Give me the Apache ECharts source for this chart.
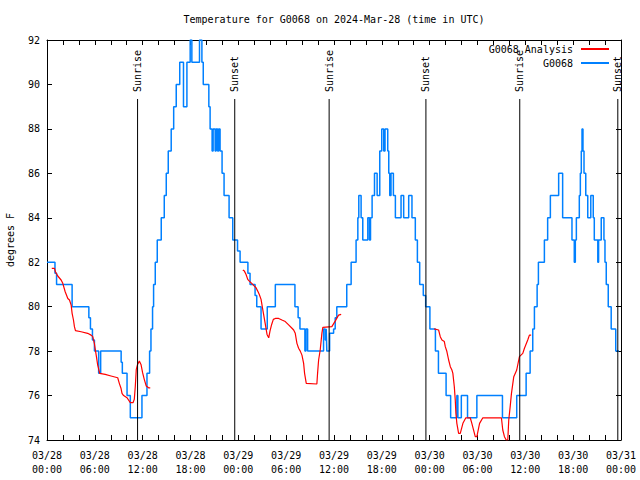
<!DOCTYPE html>
<html><head><meta charset="utf-8">
<script src="https://cdn.jsdelivr.net/npm/echarts@6/dist/echarts.min.js"></script>
<style>html,body{margin:0;padding:0;background:#fff}#c{width:640px;height:480px}</style>
</head><body><div id="c"></div>
<script>
const FONT = '"DejaVu Sans Mono", "Liberation Mono", monospace';
const chartTitle = 'Temperature for G0068 on 2024-Mar-28 (time in UTC)';
const yAxisName = 'degrees F';
const seriesNames = ['G0068 Analysis', 'G0068'];
const xTickHours = [0, 6, 12, 18, 24, 30, 36, 42, 48, 54, 60, 66, 72];
const xTickLabels = ['03/28\n00:00','03/28\n06:00','03/28\n12:00','03/28\n18:00',
  '03/29\n00:00','03/29\n06:00','03/29\n12:00','03/29\n18:00',
  '03/30\n00:00','03/30\n06:00','03/30\n12:00','03/30\n18:00','03/31\n00:00'];
const sunTimes = [11.36, 23.55, 35.39, 47.53, 59.3, 71.6];
const sunLabels = ['Sunrise', 'Sunset', 'Sunrise', 'Sunset', 'Sunrise', 'Sunset'];

// observed G0068 (hours since 03/28 00:00 UTC, deg F)
const g0068 = [[0,82],[1.0,81.5],[1.2,81],[3.15,80],[5.25,79.5],[5.45,79],[5.7,78.5],[5.95,78],[6.48,77],[6.73,78],[9.3,77.5],[9.45,77],[10.04,76],[10.45,75],[11.91,76],[12.54,77],[12.87,78],[13.04,79],[13.24,80],[13.37,81],[13.58,82],[13.83,83],[14.33,84],[14.71,85],[14.96,86],[15.21,87],[15.58,88],[15.89,89],[16.21,90],[16.65,91],[17.12,89],[17.55,91],[17.96,92],[18.17,91],[19.13,92],[19.43,91],[19.6,90],[20.3,89],[20.46,88],[20.71,87],[20.84,88],[21.09,87],[21.21,88],[21.4,87],[21.53,88],[21.71,87],[21.96,86],[22.21,85],[22.84,84],[23.3,83],[23.9,82.5],[24.22,82],[25.2,81.5],[25.47,81],[26.1,80.5],[26.31,80],[26.85,79],[27.63,80],[28.64,81],[31.1,80],[31.5,79.5],[31.73,79],[32.35,78],[32.48,79],[32.69,78],[34.69,79],[34.9,78.5],[35.02,79],[35.1,78],[35.45,78.8],[35.95,79],[36.15,79.5],[36.35,80],[37.6,81],[38.15,82],[38.77,83],[38.99,84],[39.11,85],[39.4,84],[39.61,83],[40.24,84],[40.45,83],[40.58,84],[40.78,85],[41.08,86],[41.41,85],[41.74,87],[41.99,88],[42.24,87],[42.4,88],[42.74,87],[42.87,86],[42.99,85],[43.15,86],[43.45,85],[43.7,84],[44.41,85],[44.74,84],[45.37,85],[45.78,84],[46.2,83],[46.46,82],[46.75,81],[47.2,80.5],[47.5,80],[48.03,79],[48.72,78],[49.1,77],[50.06,76],[50.63,75],[51.41,76],[51.54,75],[51.97,76],[52.75,75],[53.92,76],[57.13,75],[58.92,76],[60.1,77],[60.6,78],[60.93,79],[61.14,80],[61.48,81],[61.64,82],[62.39,83],[62.8,84],[63.14,85],[64.18,86],[64.68,84],[65.85,83],[66.14,82],[66.27,83],[66.4,84],[66.77,85],[66.9,86],[67.02,87],[67.11,88],[67.23,87],[67.36,86],[67.58,85],[67.83,84],[68.21,85],[68.52,84],[68.65,83],[69.09,82],[69.19,83],[69.52,84],[69.86,83],[69.99,82],[70.15,81],[70.4,80],[70.77,79],[71.34,78],[71.75,78]];

// analysis segments
const analysis1 = [[0.6,81.72],[0.94,81.72],[1.06,81.57],[1.35,81.38],[1.77,81.2],[1.98,81.05],[2.28,80.67],[2.61,80.37],[2.82,80.3],[3.03,80.07],[3.15,79.7],[3.32,79.4],[3.44,79.1],[3.57,78.92],[4.28,78.87],[5.1,78.8],[5.53,78.72],[5.74,78.65],[5.94,78.35],[6.2,77.75],[6.36,77.37],[6.61,77.0],[7.3,76.95],[8.03,76.88],[8.87,76.8],[9.07,76.55],[9.28,76.33],[9.41,76.1],[9.61,76.0],[10.04,75.9],[10.45,75.68],[10.79,75.68],[10.95,75.83],[11.08,76.43],[11.2,77.18],[11.36,77.4],[11.58,77.55],[11.79,77.4],[11.99,77.03],[12.2,76.73],[12.45,76.43],[12.74,76.35],[12.95,76.35]];
const analysis2 = [[24.56,81.65],[24.76,81.6],[24.97,81.45],[25.18,81.23],[25.38,81.15],[25.8,81.0],[26.22,80.85],[26.43,80.7],[26.63,80.55],[26.85,80.33],[27.06,79.88],[27.35,79.28],[27.6,78.75],[27.81,78.6],[27.97,78.9],[28.18,79.2],[28.39,79.43],[28.64,79.47],[29.06,79.47],[29.47,79.4],[29.89,79.33],[30.31,79.18],[30.73,79.03],[30.94,78.95],[31.14,78.8],[31.35,78.35],[31.56,78.13],[31.77,78.0],[31.98,77.82],[32.19,77.45],[32.31,77.0],[32.52,76.55],[33.85,76.52],[33.94,77.0],[34.07,77.6],[34.27,78.05],[34.48,78.8],[34.6,79.07],[35.73,79.1],[36.15,79.35],[36.57,79.62],[36.9,79.65]];
const analysis3 = [[48.56,79.0],[49.12,78.95],[49.33,78.65],[49.54,78.5],[49.84,78.43],[49.96,78.2],[50.16,77.98],[50.38,77.6],[50.59,77.3],[50.79,77.15],[50.91,77.0],[51.09,76.4],[51.21,75.8],[51.29,75.2],[51.41,74.75],[51.63,74.3],[51.84,74.3],[52.17,74.75],[52.54,75.0],[53.09,75.0],[53.29,74.75],[53.72,74.15],[53.92,74.15],[54.26,74.75],[54.67,75.0],[57.0,75.0],[57.17,74.45],[57.38,74.15],[57.6,74.0],[57.8,74.0],[57.92,74.9],[58.1,75.5],[58.26,76.1],[58.55,76.85],[58.92,77.15],[59.26,77.75],[59.68,77.9],[59.89,78.13],[60.3,78.5],[60.51,78.72],[60.73,78.72]];

const chart = echarts.init(document.getElementById('c'), null, {renderer: 'svg'});
const txt = {fontFamily: FONT, fontSize: 10, color: '#000'};
const redStyle = {color: '#ff0000', width: 1.2};
const redSeries = [analysis1, analysis2, analysis3].map(d => ({
  type: 'line', name: seriesNames[0], data: d, symbol: 'none', z: 4,
  lineStyle: redStyle, itemStyle: {color: '#ff0000'}
}));
const xBase = {
  type: 'value', min: 0, max: 72, interval: 2,
  axisLine: {show: true, onZero: false, lineStyle: {color: '#000', width: 1}},
  axisTick: {show: true, inside: true, length: 5, lineStyle: {color: '#000'}},
  splitLine: {show: false}
};
const yBase = {
  type: 'value', min: 74, max: 92, interval: 2,
  axisLine: {show: true, onZero: false, lineStyle: {color: '#000', width: 1}},
  axisTick: {show: true, inside: true, length: 5, lineStyle: {color: '#000'}},
  splitLine: {show: false}
};
chart.setOption({
  animation: false,
  backgroundColor: '#fff',
  title: {text: chartTitle, left: 334, textAlign: 'center', top: 14, padding: 0,
    textStyle: {fontFamily: FONT, fontSize: 10, fontWeight: 'normal', color: '#000'}},
  legend: {
    data: seriesNames, orient: 'vertical', right: 30, top: 44, padding: 0,
    align: 'right', itemWidth: 28, itemHeight: 10, itemGap: 4,
    itemStyle: {opacity: 0},
    textStyle: Object.assign({padding: [0, 3, 0, 0]}, txt)
  },
  grid: {left: 47, right: 19, top: 40, bottom: 40, outerBoundsMode: 'none', containLabel: false},
  xAxis: [
    Object.assign({}, xBase, {position: 'bottom', axisLabel: Object.assign({
      margin: 8, lineHeight: 14, showMinLabel: true, showMaxLabel: true,
      formatter: v => { const i = xTickHours.indexOf(v); return i >= 0 ? xTickLabels[i] : ''; }
    }, txt)}),
    Object.assign({}, xBase, {position: 'top', axisLabel: {show: false}})
  ],
  yAxis: [
    Object.assign({}, yBase, {position: 'left', name: yAxisName, nameLocation: 'middle',
      nameGap: 32, nameRotate: 90, nameTextStyle: txt,
      axisLabel: Object.assign({margin: 7}, txt)}),
    Object.assign({}, yBase, {position: 'right', axisLabel: {show: false}})
  ],
  series: [
    {type: 'line', name: seriesNames[1], data: g0068, step: 'end', symbol: 'none', z: 3,
     lineStyle: {color: '#0080ff', width: 1.5}, itemStyle: {color: '#0080ff'}},
    ...redSeries,
    {type: 'custom', name: 'sun', data: sunTimes.map(t => [t, 74]), z: 5, silent: true, clip: false,
     renderItem: (params, api) => {
       const t = api.value(0);
       const b = api.coord([t, 74]);
       const top = api.coord([t, 92]);
       return {type: 'group', children: [
         {type: 'line', shape: {x1: b[0], y1: b[1], x2: b[0], y2: top[1] + 59},
          style: {stroke: '#000', lineWidth: 1}},
         {type: 'text', x: b[0], y: top[1] + 52, rotation: Math.PI / 2,
          style: {text: sunLabels[params.dataIndex], fill: '#000',
            font: '10px ' + FONT, align: 'left', verticalAlign: 'middle'}}
       ]};
     }}
  ]
});
</script></body></html>
